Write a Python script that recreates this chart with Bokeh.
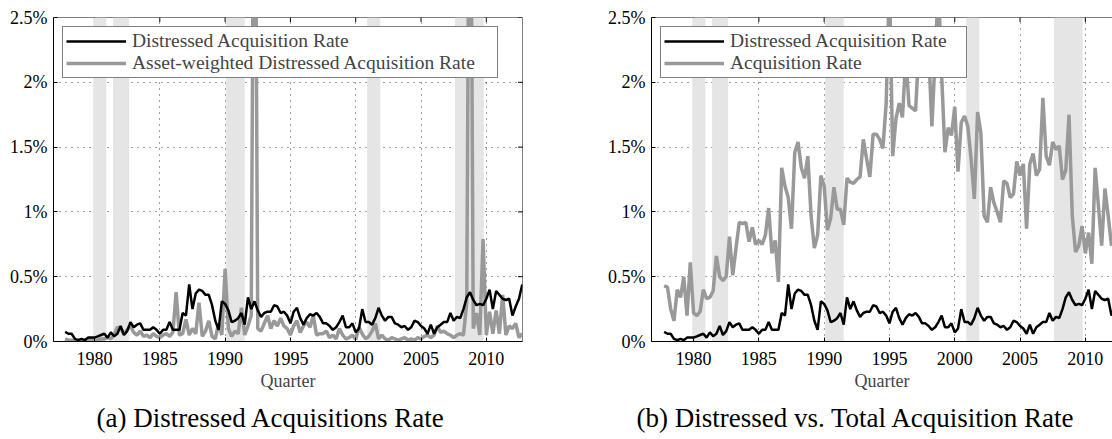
import math
from bokeh.plotting import figure
from bokeh.models import (FixedTicker, BoxAnnotation, Legend, LegendItem, Title, Range1d,
                          Span, CustomJSTickFormatter)
from bokeh.layouts import row
from bokeh.embed import file_html
from bokeh.resources import INLINE

# ---------------- data ----------------
start_year = 1977.75          # first quarter plotted
n_quarters = 141
quarters = [start_year + 0.25 * i for i in range(n_quarters)]

# Distressed acquisition rate (%), quarterly
distressed = [
    0.074, 0.06, 0.06, 0.02, 0.01, 0.02, 0.01, 0.03, 0.03, 0.03,
    0.04, 0.05, 0.06, 0.03, 0.07, 0.04, 0.06, 0.12, 0.05, 0.08,
    0.15, 0.11, 0.13, 0.14, 0.09, 0.09, 0.09, 0.11, 0.09, 0.06,
    0.09, 0.09, 0.15, 0.09, 0.09, 0.09, 0.22, 0.20, 0.44, 0.25,
    0.37, 0.40, 0.39, 0.36, 0.36, 0.28, 0.16, 0.09, 0.31, 0.29,
    0.24, 0.15, 0.16, 0.18, 0.22, 0.13, 0.34, 0.25, 0.31, 0.24,
    0.19, 0.22, 0.23, 0.23, 0.28, 0.27, 0.22, 0.23, 0.20, 0.14,
    0.23, 0.26, 0.18, 0.13, 0.18, 0.21, 0.20, 0.22, 0.19, 0.14,
    0.14, 0.12, 0.09, 0.11, 0.15, 0.20, 0.11, 0.11, 0.14, 0.07,
    0.10, 0.25, 0.15, 0.15, 0.13, 0.18, 0.26, 0.20, 0.16, 0.19,
    0.19, 0.14, 0.13, 0.11, 0.12, 0.09, 0.11, 0.16, 0.15, 0.12,
    0.10, 0.06, 0.13, 0.06, 0.11, 0.13, 0.15, 0.15, 0.22, 0.16,
    0.19, 0.18, 0.25, 0.34, 0.38, 0.32, 0.28, 0.29, 0.28, 0.33,
    0.40, 0.25, 0.39, 0.36, 0.33, 0.32, 0.33, 0.20, 0.27, 0.33,
    0.44,
]

# Asset-weighted distressed acquisition rate (%), quarterly
asset_weighted = [
    0.02, 0.01, 0.01, 0.00, 0.01, 0.00, 0.01, 0.01, 0.02, 0.01,
    0.01, 0.02, 0.02, 0.03, 0.02, 0.05, 0.11, 0.10, 0.06, 0.09,
    0.12, 0.07, 0.05, 0.08, 0.04, 0.05, 0.03, 0.06, 0.04, 0.03,
    0.05, 0.06, 0.04, 0.07, 0.38, 0.05, 0.06, 0.17, 0.05, 0.10,
    0.06, 0.30, 0.04, 0.08, 0.16, 0.04, 0.02, 0.14, 0.05, 0.56,
    0.10, 0.04, 0.08, 0.06, 0.26, 0.05, 0.12, 0.20, 5.00, 0.10,
    0.08, 0.14, 0.20, 0.10, 0.16, 0.12, 0.18, 0.12, 0.10, 0.05,
    0.12, 0.16, 0.07, 0.12, 0.15, 0.11, 0.20, 0.05, 0.06, 0.06,
    0.08, 0.03, 0.05, 0.02, 0.10, 0.05, 0.02, 0.03, 0.05, 0.015,
    0.11, 0.06, 0.02, 0.04, 0.08, 0.14, 0.02, 0.05, 0.02, 0.01,
    0.03, 0.02, 0.01, 0.02, 0.03, 0.01, 0.02, 0.01, 0.03, 0.02,
    0.04, 0.05, 0.03, 0.05, 0.12, 0.07, 0.08, 0.06, 0.05, 0.03,
    0.05, 0.06, 0.05, 0.30, 5.00, 0.10, 0.22, 0.05, 0.79, 0.05,
    0.23, 0.06, 0.24, 0.06, 0.36, 0.05, 0.12, 0.10, 0.14, 0.03,
    0.06,
]

# Total acquisition rate (%), quarterly
acquisition = [
    0.43, 0.42, 0.25, 0.16, 0.40, 0.34, 0.50, 0.20, 0.61, 0.22,
    0.20, 0.23, 0.40, 0.33, 0.34, 0.39, 0.66, 0.50, 0.47, 0.50,
    0.81, 0.51, 0.72, 0.92, 0.91, 0.92, 0.77, 0.88, 0.75, 0.78,
    0.75, 0.82, 1.03, 0.68, 0.78, 0.46, 1.34, 1.20, 1.11, 0.87,
    1.46, 1.54, 1.34, 1.26, 1.43, 0.97, 0.72, 0.82, 1.28, 1.20,
    0.86, 0.95, 1.19, 1.02, 1.02, 0.90, 1.26, 1.23, 1.22, 1.25,
    1.27, 1.56, 1.41, 1.27, 1.60, 1.60, 1.56, 1.49, 1.84, 2.80,
    1.43, 1.72, 1.84, 1.73, 2.20, 1.82, 1.80, 1.78, 2.25, 2.10,
    2.05, 2.25, 1.66, 2.20, 2.75, 2.05, 1.46, 1.65, 1.59, 1.81,
    1.31, 1.69, 1.74, 1.66, 1.41, 1.10, 1.77, 1.61, 0.97, 0.92,
    1.19, 1.07, 1.00, 0.92, 1.24, 1.22, 1.11, 1.14, 1.39, 1.28,
    1.37, 0.87, 1.37, 1.45, 1.28, 1.33, 1.88, 1.43, 1.36, 1.54,
    1.48, 1.51, 1.25, 1.32, 1.75, 0.97, 0.69, 0.74, 0.89, 0.68,
    0.84, 0.60, 1.34, 1.05, 0.74, 1.18, 0.97, 0.74, 0.85, 0.95,
    0.80,
]

# NBER recession shading
rec_start = [1979.9, 1981.42, 1990.08, 2000.88, 2007.6]
rec_end = [1980.9, 1982.65, 1991.5, 2001.88, 2009.8]

year_ticks = [1980, 1985, 1990, 1995, 2000, 2005, 2010]
pct_ticks = [0, 0.5, 1, 1.5, 2, 2.5]
pct_labels = ["0%", "0.5%", "1%", "1.5%", "2%", "2.5%"]

labels_a = ["Distressed Acquisition Rate", "Asset-weighted Distressed Acquisition Rate"]
labels_b = ["Distressed Acquisition Rate", "Acquisition Rate"]
caption_a = "(a) Distressed Acquisitions Rate"
caption_b = "(b) Distressed vs. Total Acquisition Rate"
x_title = "Quarter"

# ---------------- styling ----------------
FONT = "Liberation Serif"
BLACK = "#000000"
GRAY = "#999999"
BAND = "#e5e5e5"


def make_panel(width, x_start, x_end, b_left, b_right, b_top, b_bottom,
               gray_series, labels, label_w, caption, caption_offset, box_right):
    y_min, y_max = pct_ticks[0], pct_ticks[-1]
    p = figure(width=width, height=439, output_backend="svg", toolbar_location=None,
               title=None,
               x_range=Range1d(x_start, x_end), y_range=Range1d(y_min, y_max),
               min_border_left=b_left, min_border_right=b_right,
               min_border_top=b_top, min_border_bottom=b_bottom)
    p.outline_line_color = None
    p.background_fill_color = "white"
    p.border_fill_color = "white"

    # axes (ticks pointing inward)
    for ax in (p.xaxis[0], p.yaxis[0]):
        ax.major_tick_in = 4
        ax.major_tick_out = 0
        ax.minor_tick_line_color = None
        ax.axis_line_color = BLACK
        ax.major_tick_line_color = BLACK
        ax.major_label_text_font = FONT
        ax.major_label_text_font_size = "18px"
        ax.major_label_text_color = BLACK
    p.xaxis.ticker = FixedTicker(ticks=year_ticks)
    p.yaxis.ticker = FixedTicker(ticks=pct_ticks)
    p.yaxis.formatter = CustomJSTickFormatter(
        args=dict(vals=pct_ticks, labs=pct_labels),
        code="""
        for (let i = 0; i < vals.length; i++) {
            if (Math.abs(vals[i] - tick) < 1e-9) { return labs[i]; }
        }
        return '';
        """)
    p.xaxis.major_label_standoff = 10
    p.yaxis.major_label_standoff = 6
    p.xaxis.axis_label = x_title
    p.xaxis.axis_label_text_font = FONT
    p.xaxis.axis_label_text_font_size = "18px"
    p.xaxis.axis_label_text_font_style = "normal"
    p.xaxis.axis_label_standoff = 3

    # grid
    for g in (p.xgrid[0], p.ygrid[0]):
        g.grid_line_color = BLACK
        g.grid_line_alpha = 0.75
        g.grid_line_dash = "1 5"
        g.grid_line_width = 1
    p.xgrid.ticker = FixedTicker(ticks=year_ticks)
    p.ygrid.ticker = FixedTicker(ticks=pct_ticks)

    # box: top edge (and right edge for the full panel) with inward ticks
    p.add_layout(Span(location=y_max, dimension="width", line_color=BLACK,
                      line_width=1, level="underlay"))
    p.scatter(year_ticks, [y_max] * len(year_ticks), marker="dash", angle=math.pi / 2,
              size=9, line_color=BLACK, line_width=1, level="underlay")
    if box_right:
        p.add_layout(Span(location=x_end, dimension="height", line_color=BLACK,
                          line_width=1, level="underlay"))
        p.scatter([x_end] * len(pct_ticks), pct_ticks, marker="dash",
                  size=9, line_color=BLACK, line_width=1, level="underlay")

    # recession bands
    for s, e in zip(rec_start, rec_end):
        p.add_layout(BoxAnnotation(left=s, right=e, fill_color=BAND, fill_alpha=1,
                                   line_color=None, level="underlay"))

    r_gray = p.line(quarters, gray_series, line_color=GRAY, line_width=3.5)
    r_black = p.line(quarters, distressed, line_color=BLACK, line_width=2.5)

    legend = Legend(items=[LegendItem(label=labels[0], renderers=[r_black]),
                           LegendItem(label=labels[1], renderers=[r_gray])],
                    location="top_left", margin=9, padding=3, spacing=0,
                    glyph_width=60, glyph_height=18, label_height=18, label_standoff=6,
                    label_width=label_w,
                    label_text_font=FONT, label_text_font_size="19.5px",
                    label_text_line_height=1.0,
                    border_line_color=BLACK, border_line_width=1,
                    background_fill_color="white", background_fill_alpha=1)
    p.add_layout(legend)

    cap = Title(text=caption, align="left", offset=caption_offset,
                text_font=FONT, text_font_size="27px", text_font_style="normal",
                text_color=BLACK, standoff=14)
    p.add_layout(cap, "below")
    return p


p1 = make_panel(556, 1976.86, 2012.77, 53, 34, 17, 97,
                asset_weighted, labels_a, 362, caption_a, 43, True)
p2 = make_panel(556, 1976.78, 2012.08, 95, 0, 17, 97,
                acquisition, labels_b, 233, caption_b, -15, False)

layout = row(p1, p2)
open("out.html", "w").write(file_html(layout, INLINE))
